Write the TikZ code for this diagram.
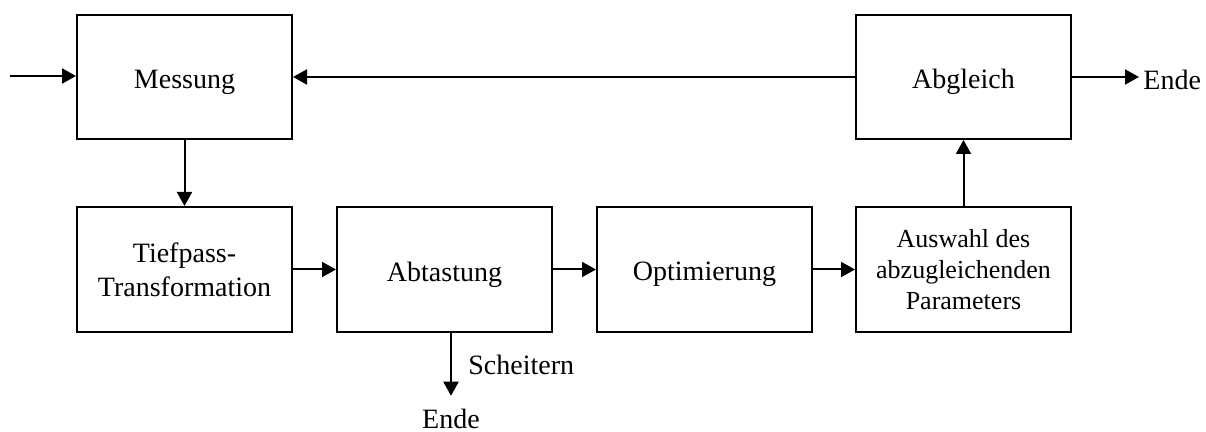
\documentclass[tikz,border=0pt]{standalone}
\usepackage{fontspec}
\setmainfont{Liberation Serif}
\usetikzlibrary{arrows.meta}
% lower a box label without changing the box dimensions
\newcommand{\lowered}[2]{\raisebox{-#1}[\height][\depth]{#2}}
\begin{document}
\begin{tikzpicture}[x=0.5pt,y=-0.5pt,
  stage/.style={draw,line width=1pt,minimum width=107.5pt,minimum height=62pt,
    inner sep=0pt,align=center,font=\fontsize{14}{17}\selectfont},
  lowstage/.style={stage,minimum height=62.5pt},
  flow/.style={line width=1pt,-{Triangle[length=7pt,width=7.5pt]}},
  note/.style={inner sep=2pt,font=\fontsize{14}{17}\selectfont}]
\useasboundingbox (0,0) rectangle (1206,432);

% upper row
\node[stage] (mess) at (184.5,77) {\lowered{2.5pt}{Messung}};
\node[stage] (abgl) at (963.5,77) {\lowered{2.5pt}{Abgleich}};

% lower row
\node[lowstage] (tief) at (184.5,269.5) {Tiefpass-\\Transformation};
\node[lowstage] (abt)  at (444.5,269.5) {\lowered{2.5pt}{Abtastung}};
\node[lowstage] (opt)  at (704.5,269.5) {\lowered{2.5pt}{Optimierung}};
\node[lowstage,font=\fontsize{13}{15.5}\selectfont] (ausw) at (963.5,269.5)
  {Auswahl des\\abzugleichenden\\Parameters};

% free labels
\node[note,anchor=west] (endeR) at (1139,80) {Ende};
\node[note,anchor=west] (fail) at (464,365) {Scheitern};
\node[note,inner sep=1pt] (endeB) at (451,419) {Ende};
\coordinate (in) at (10,76);

% connectors
\draw[flow] (in) -- (in -| mess.west);
\draw[flow] (abgl.west) -- (mess.east);
\draw[flow] (abgl.east) -- (abgl.east -| endeR.west);
\draw[flow] (mess.south) -- (tief.north);
\draw[flow] (tief.east) -- (abt.west);
\draw[flow] (abt.east) -- (opt.west);
\draw[flow] (opt.east) -- (ausw.west);
\draw[flow] (ausw.north) -- (abgl.south);
\draw[flow] (abt.south -| endeB) -- ([yshift=5.5pt]endeB.north);
\end{tikzpicture}
\end{document}
